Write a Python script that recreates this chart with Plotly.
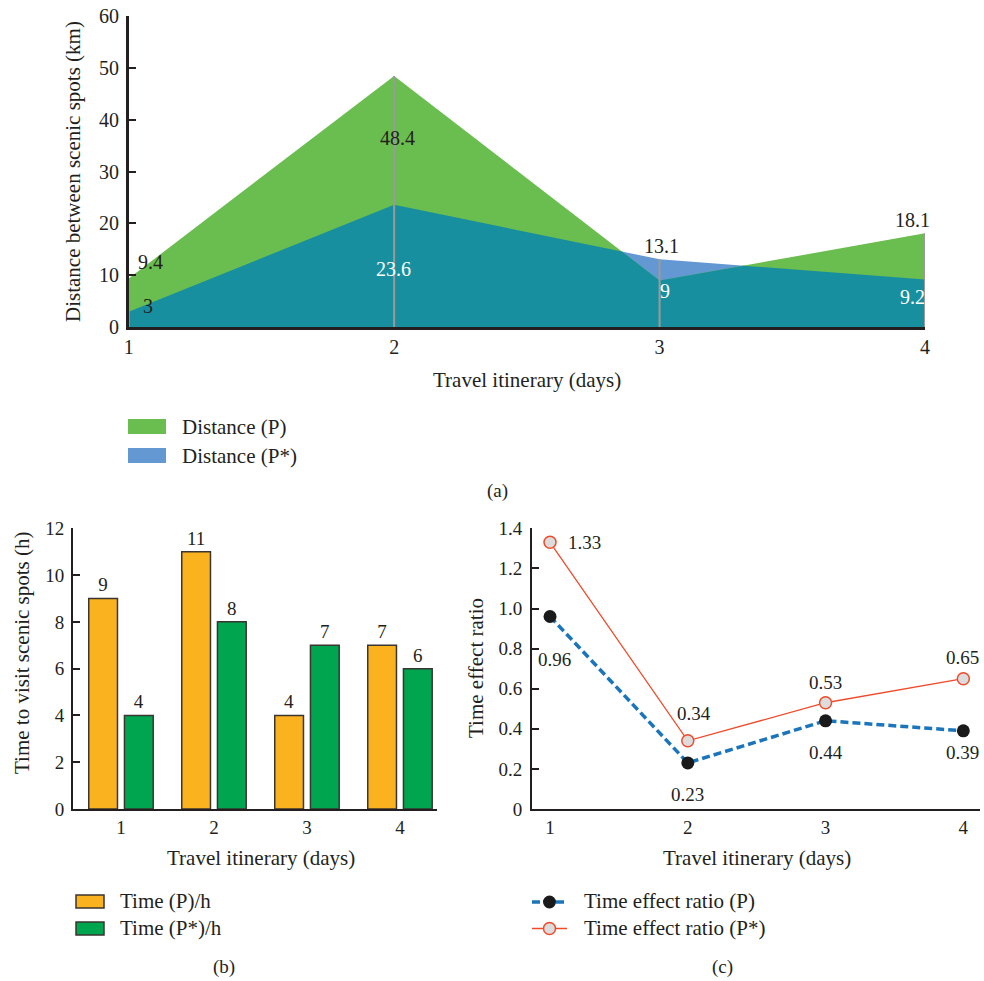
import plotly.graph_objects as go
import numpy as np

# ---------------- data ----------------
days = [1, 2, 3, 4]
dist_p = [9.4, 48.4, 9.0, 18.1]
dist_pstar = [3.0, 23.6, 13.1, 9.2]
time_p = [9, 11, 4, 7]
time_pstar = [4, 8, 7, 6]
ratio_p = [0.96, 0.23, 0.44, 0.39]
ratio_pstar = [1.33, 0.34, 0.53, 0.65]
ratio_ticks = [0, 0.2, 0.4, 0.6, 0.8, 1.0, 1.2, 1.4]
ratio_ticktext = ["0", "0.2", "0.4", "0.6", "0.8", "1.0", "1.2", "1.4"]

# ---------------- style ----------------
W, H = 984, 981
FONT = "Liberation Serif"
TXT = "#231f20"
GREEN_A = "#6abd4f"
BLUE_A = "#6498d2"
TEAL_A = "#188f9e"
ORANGE_B = "#fbb21f"
GREEN_B = "#00a550"
BLUE_C = "#1b75bb"
RED_C = "#ef4b2b"


def px(x):
    return x / W


def py(y):
    return 1 - y / H


def envelope(x, a, b):
    xs, ys = [], []
    for i in range(len(x)):
        xs.append(x[i])
        ys.append(min(a[i], b[i]))
        if i < len(x) - 1:
            d0 = a[i] - b[i]
            d1 = a[i + 1] - b[i + 1]
            if d0 * d1 < 0:
                t = d0 / (d0 - d1)
                xs.append(x[i] + t * (x[i + 1] - x[i]))
                ys.append(a[i] + t * (a[i + 1] - a[i]))
    return xs, ys


fig = go.Figure()

# ---------------- (a) area chart ----------------
fig.add_trace(go.Scatter(x=days, y=dist_pstar, mode="lines", fill="tozeroy",
                         fillcolor=BLUE_A, line=dict(width=0, color=BLUE_A),
                         name="Distance (P*)", xaxis="x", yaxis="y",
                         showlegend=False, hoverinfo="skip"))
fig.add_trace(go.Scatter(x=days, y=dist_p, mode="lines", fill="tozeroy",
                         fillcolor=GREEN_A, line=dict(width=0, color=GREEN_A),
                         name="Distance (P)", xaxis="x", yaxis="y",
                         showlegend=False, hoverinfo="skip"))
ex, ey = envelope(days, dist_p, dist_pstar)
fig.add_trace(go.Scatter(x=ex, y=ey, mode="lines", fill="tozeroy",
                         fillcolor=TEAL_A, line=dict(width=0, color=TEAL_A),
                         xaxis="x", yaxis="y", showlegend=False, hoverinfo="skip"))
# drop lines
dx, dy = [], []
for d, a, b in zip(days, dist_p, dist_pstar):
    dx += [d, d, None]
    dy += [0, max(a, b), None]
fig.add_trace(go.Scatter(x=dx, y=dy, mode="lines", line=dict(color="#9a9a9a", width=2),
                         xaxis="x", yaxis="y", showlegend=False, hoverinfo="skip"))

annotations = []
# labels (a)
p_shift = [(22, 16), (3, -62), (5, -10), (-13, 13)]
p_col = [TXT, TXT, "white", TXT]
ps_shift = [(19, 6), (-1, -64), (2, 13), (-13, -17)]
ps_col = [TXT, "white", TXT, "white"]
for i, d in enumerate(days):
    annotations.append(dict(x=d, y=dist_p[i], xref="x", yref="y", text=f"{dist_p[i]:g}",
                            showarrow=False, xshift=p_shift[i][0], yshift=p_shift[i][1],
                            font=dict(family=FONT, size=20, color=p_col[i])))
    annotations.append(dict(x=d, y=dist_pstar[i], xref="x", yref="y", text=f"{dist_pstar[i]:g}",
                            showarrow=False, xshift=ps_shift[i][0], yshift=ps_shift[i][1],
                            font=dict(family=FONT, size=20, color=ps_col[i])))

# ---------------- (b) bar chart ----------------
fig.add_trace(go.Bar(x=days, y=time_p, marker=dict(color=ORANGE_B, line=dict(color="#3a3530", width=1.5)),
                     text=[str(v) for v in time_p], textposition="outside",
                     textfont=dict(family=FONT, size=19, color=TXT), cliponaxis=False,
                     xaxis="x2", yaxis="y2", showlegend=False, hoverinfo="skip", offsetgroup="p"))
fig.add_trace(go.Bar(x=days, y=time_pstar, marker=dict(color=GREEN_B, line=dict(color="#3a3530", width=1.5)),
                     text=[str(v) for v in time_pstar], textposition="outside",
                     textfont=dict(family=FONT, size=19, color=TXT), cliponaxis=False,
                     xaxis="x2", yaxis="y2", showlegend=False, hoverinfo="skip", offsetgroup="ps"))

# ---------------- (c) line chart ----------------
fig.add_trace(go.Scatter(x=days, y=ratio_p, mode="lines+markers",
                         line=dict(color=BLUE_C, width=3.5, dash="8px,4px"),
                         marker=dict(size=13, color="#1a1a1a", line=dict(width=0)),
                         xaxis="x3", yaxis="y3", showlegend=False, hoverinfo="skip", cliponaxis=False))
fig.add_trace(go.Scatter(x=days, y=ratio_pstar, mode="lines+markers",
                         line=dict(color=RED_C, width=1.3),
                         marker=dict(size=12, color="#dcdcdc", line=dict(width=1.5, color=RED_C)),
                         xaxis="x3", yaxis="y3", showlegend=False, hoverinfo="skip", cliponaxis=False))
rp_shift = [(4, -43), (0, -32), (0, -32), (-1, -22)]
rps_shift = [(34, 0), (6, 27), (0, 20), (-1, 21)]
for i, d in enumerate(days):
    annotations.append(dict(x=d, y=ratio_p[i], xref="x3", yref="y3", text=f"{ratio_p[i]:.2f}",
                            showarrow=False, xshift=rp_shift[i][0], yshift=rp_shift[i][1],
                            font=dict(family=FONT, size=19, color=TXT)))
    annotations.append(dict(x=d, y=ratio_pstar[i], xref="x3", yref="y3", text=f"{ratio_pstar[i]:.2f}",
                            showarrow=False, xshift=rps_shift[i][0], yshift=rps_shift[i][1],
                            font=dict(family=FONT, size=19, color=TXT)))


# ---------------- titles / sublabels ----------------
def txt(x, y, s, size=21, angle=0, xanchor="center"):
    annotations.append(dict(x=px(x), y=py(y), xref="paper", yref="paper", text=s,
                            showarrow=False, textangle=angle, xanchor=xanchor, yanchor="middle",
                            font=dict(family=FONT, size=size, color=TXT)))


txt(527, 380, "Travel itinerary (days)")
txt(73, 172, "Distance between scenic spots (km)", angle=-90)
txt(261, 858, "Travel itinerary (days)")
txt(22, 653, "Time to visit scenic spots (h)", angle=-90)
txt(757, 858, "Travel itinerary (days)")
txt(476, 668, "Time effect ratio", angle=-90)
txt(497, 491, "(a)", size=19)
txt(224, 967, "(b)", size=19)
txt(722, 967, "(c)", size=19)

# ---------------- manual legends ----------------
shapes = []


def rect(x0, y0, x1, y1, color, outline=None):
    shapes.append(dict(type="rect", xref="paper", yref="paper",
                       x0=px(x0), x1=px(x1), y0=py(y1), y1=py(y0),
                       fillcolor=color,
                       line=dict(width=1.5 if outline else 0, color=outline or color)))


rect(128, 419, 166, 434, GREEN_A)
rect(128, 448, 166, 463, BLUE_A)
txt(180, 426.5, "Distance (P)", xanchor="left")
txt(180, 455.5, "Distance (P*)", xanchor="left")

rect(76, 895, 104, 908, ORANGE_B, "#3a3530")
rect(76, 922, 104, 935, GREEN_B, "#3a3530")
txt(118, 901, "Time (P)/h", xanchor="left")
txt(118, 928, "Time (P*)/h", xanchor="left")

shapes.append(dict(type="line", xref="paper", yref="paper", x0=px(532), x1=px(567),
                   y0=py(902), y1=py(902), line=dict(color=BLUE_C, width=3.5, dash="8px,4px")))
shapes.append(dict(type="circle", xref="paper", yref="paper", x0=px(549.5 - 6.5), x1=px(549.5 + 6.5),
                   y0=py(902 + 6.5), y1=py(902 - 6.5), fillcolor="#1a1a1a", line=dict(width=0)))
shapes.append(dict(type="line", xref="paper", yref="paper", x0=px(532), x1=px(567),
                   y0=py(928.5), y1=py(928.5), line=dict(color=RED_C, width=1.3)))
shapes.append(dict(type="circle", xref="paper", yref="paper", x0=px(549.5 - 6), x1=px(549.5 + 6),
                   y0=py(928.5 + 6), y1=py(928.5 - 6), fillcolor="#dcdcdc",
                   line=dict(width=1.5, color=RED_C)))
txt(582, 901, "Time effect ratio (P)", xanchor="left")
txt(582, 928, "Time effect ratio (P*)", xanchor="left")

# ---------------- axes ----------------
tickfont_a = dict(family=FONT, size=20, color=TXT)
tickfont_b = dict(family=FONT, size=19, color=TXT)
common = dict(showgrid=False, zeroline=False, automargin=False, showline=True, linecolor=TXT)

fig.update_layout(
    width=W, height=H, margin=dict(l=0, r=0, t=0, b=0, pad=0, autoexpand=False),
    paper_bgcolor="white", plot_bgcolor="white",
    showlegend=False, barmode="group", bargap=0.232, bargroupgap=0.195,
    font=dict(family=FONT, color=TXT),
    annotations=annotations, shapes=shapes,
    xaxis=dict(domain=[px(128.7), px(925)], range=[1, 4], tickvals=days, ticks="",
               linewidth=2.5, tickfont=tickfont_a, ticklabelstandoff=0, anchor="y", **common),
    yaxis=dict(domain=[py(327.3), py(15.7)], range=[0, 60], dtick=10, ticks="inside",
               ticklen=8, tickwidth=2, tickcolor=TXT, linewidth=2.5, tickfont=tickfont_a,
               ticklabelstandoff=3, anchor="x", **common),
    xaxis2=dict(domain=[px(72.7), px(436.7)], range=[0.481, 4.395], tickvals=days, ticks="",
                linewidth=1.5, tickfont=tickfont_b, ticklabelstandoff=0, anchor="y2", **common),
    yaxis2=dict(domain=[py(809), py(528.3)], range=[0, 12], dtick=2, ticks="inside",
                ticklen=8, tickwidth=1.5, tickcolor=TXT, linewidth=1.5, tickfont=tickfont_b,
                ticklabelstandoff=3, anchor="x2", **common),
    xaxis3=dict(domain=[px(531.7), px(980)], range=[0.867, 4.121], tickvals=days, ticks="",
                linewidth=1.5, tickfont=tickfont_b, ticklabelstandoff=0, anchor="y3", **common),
    yaxis3=dict(domain=[py(809), py(528.3)], range=[0, 1.4], tickvals=ratio_ticks,
                ticktext=ratio_ticktext, ticks="inside",
                ticklen=8, tickwidth=1.5, tickcolor=TXT, linewidth=1.5, tickfont=tickfont_b,
                ticklabelstandoff=4, anchor="x3", **common),
)

fig.write_html("out.html")
